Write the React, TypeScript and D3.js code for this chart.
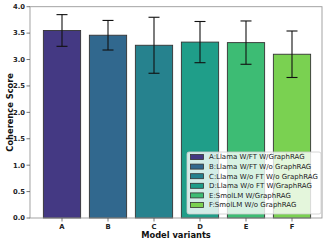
import React from "react";
import * as d3 from "d3";

const categories = ["A", "B", "C", "D", "E", "F"];
const means = [3.55, 3.46, 3.27, 3.33, 3.32, 3.1];
const errors = [0.3, 0.28, 0.53, 0.39, 0.41, 0.44];
const colors = ["#443983", "#31688e", "#26828e", "#1f9e89", "#3dbc74", "#7ad151"];
const legendLabels = [
  "A:Llama W/FT W/GraphRAG",
  "B:Llama W/FT W/o GraphRAG",
  "C:Llama W/o FT W/o GraphRAG",
  "D:Llama W/o FT W/GraphRAG",
  "E:SmolLM W/GraphRAG",
  "F:SmolLM W/o GraphRAG",
];
const yTicks = [0, 0.5, 1, 1.5, 2, 2.5, 3, 3.5, 4];

export default function App() {
  const W = 327, H = 243;
  const left = 30, right = 322, top = 6.7, bottom = 218;
  const x = d3.scaleBand<string>().domain(categories).range([39, 315]).paddingInner(0.19).paddingOuter(0.095);
  const y = d3.scaleLinear().domain([0, 4]).range([bottom, top]);
  const font = "DejaVu Sans, sans-serif";
  const lx = 187, ly = 152, lw = 134, lh = 62;
  return (
    <svg width={W} height={H} style={{ position: "absolute", left: 0, top: 0 }} fontFamily={font}>
      <rect x={0} y={0} width={W} height={H} fill="#fff" />
      {categories.map((c, i) => (
        <rect key={c} x={x(c)} y={y(means[i])} width={x.bandwidth()} height={bottom - y(means[i])}
          fill={colors[i]} stroke="#333" strokeWidth={0.9} />
      ))}
      {categories.map((c, i) => {
        const cx = (x(c) as number) + x.bandwidth() / 2;
        const y1 = y(means[i] + errors[i]), y2 = y(means[i] - errors[i]);
        return (
          <g key={c} stroke="#111" strokeWidth={1.1}>
            <line x1={cx} x2={cx} y1={y1} y2={y2} />
            <line x1={cx - 5.5} x2={cx + 5.5} y1={y1} y2={y1} />
            <line x1={cx - 5.5} x2={cx + 5.5} y1={y2} y2={y2} />
          </g>
        );
      })}
      <rect x={left} y={top} width={right - left} height={bottom - top} fill="none" stroke="#999" strokeWidth={0.9} />
      {yTicks.map((t) => (
        <g key={t}>
          <line x1={left - 3.5} x2={left} y1={y(t)} y2={y(t)} stroke="#555" strokeWidth={0.8} />
          <text x={left - 5} y={y(t)} dy="0.35em" textAnchor="end" fontSize={6.8} fontWeight="bold" fill="#222">
            {t.toFixed(1)}
          </text>
        </g>
      ))}
      {categories.map((c) => {
        const cx = (x(c) as number) + x.bandwidth() / 2;
        return (
          <g key={c}>
            <line x1={cx} x2={cx} y1={bottom} y2={bottom + 3.5} stroke="#555" strokeWidth={0.8} />
            <text x={cx} y={bottom + 10.5} textAnchor="middle" fontSize={6.8} fontWeight="bold" fill="#222">{c}</text>
          </g>
        );
      })}
      <text x={176} y={238} textAnchor="middle" fontSize={8.3} fontWeight="bold" fill="#111">Model variants</text>
      <text transform={`translate(10,${(top + bottom) / 2}) rotate(-90)`} textAnchor="middle" dy="0.35em"
        fontSize={8.3} fontWeight="bold" fill="#111">Coherence Score</text>
      <rect x={lx} y={ly} width={lw} height={lh} rx={2} fill="#fff" fillOpacity={0.8} stroke="#ccc" strokeWidth={0.8} />
      {legendLabels.map((l, i) => {
        const ry = ly + 5 + i * 9.6;
        return (
          <g key={l}>
            <rect x={lx + 3.5} y={ry - 2.5} width={13} height={5} fill={colors[i]} stroke="#333" strokeWidth={0.8} />
            <text x={lx + 22} y={ry} dy="0.35em" fontSize={7} fill="#222">{l}</text>
          </g>
        );
      })}
    </svg>
  );
}
